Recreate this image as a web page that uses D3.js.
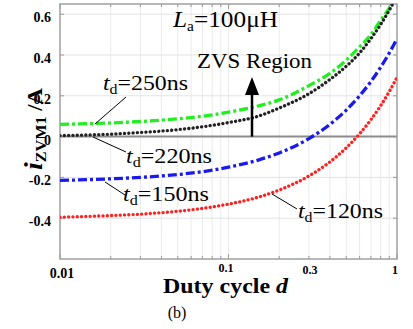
<!DOCTYPE html>
<html><head><meta charset="utf-8">
<script src="https://cdn.jsdelivr.net/npm/d3@7"></script>
<style>body{margin:0;background:#fff}svg{display:block}</style>
</head><body><svg id="c" width="413" height="329" font-family="'Liberation Serif','Times New Roman',serif"></svg>
<script>
const duty = [0.01,0.02,0.03,0.05,0.07,0.1,0.15,0.2,0.3,0.4,0.5,0.6,0.7,0.8,0.9,1.0];
const td250 = [0.06,0.067,0.074,0.087,0.10,0.12,0.15,0.18,0.25,0.31,0.375,0.44,0.50,0.57,0.63,0.70];
const td220 = [0.005,0.012,0.02,0.034,0.048,0.069,0.10,0.14,0.21,0.28,0.345,0.41,0.48,0.55,0.62,0.69];
const td150 = [-0.215,-0.207,-0.2,-0.186,-0.172,-0.15,-0.115,-0.08,-0.01,0.06,0.13,0.20,0.27,0.34,0.41,0.48];
const td120 = [-0.395,-0.387,-0.38,-0.366,-0.352,-0.331,-0.297,-0.262,-0.193,-0.124,-0.055,0.014,0.083,0.152,0.221,0.29];
const yTicks = [-0.4,-0.2,0,0.2,0.4,0.6];
const yTickLabels = ["-0.4","-0.2","0","0.2","0.4","0.6"];
const xTicks = [0.01,0.1,0.3,1];
const xTickLabels = ["0.01","0.1","0.3","1"];

const svg = d3.select("#c");
const L=60,R=397,T=4,B=259;
const x = d3.scaleLog().domain([0.01,1]).range([L,R]);
const y = d3.scaleLinear().domain([-0.6,0.65]).range([B,T]);

// grid
const minor=[];
for(const dec of [0.01,0.1]) for(let k=1;k<=9;k++) minor.push(dec*k);
minor.push(1);
svg.append("g").selectAll("line").data(minor.filter(v=>v>0.01&&v<1)).join("line")
 .attr("x1",d=>x(d)).attr("x2",d=>x(d)).attr("y1",T).attr("y2",B)
 .attr("stroke","#ebebeb").attr("stroke-width",1);
svg.append("g").selectAll("line").data(yTicks.filter(v=>v!==0)).join("line")
 .attr("x1",L).attr("x2",R).attr("y1",d=>y(d)).attr("y2",d=>y(d))
 .attr("stroke","#e3e3e3").attr("stroke-width",1);

// ticks (inside)
const tg=svg.append("g").attr("stroke","#999").attr("stroke-width",1);
minor.forEach(v=>{
  const len=(v===0.01||v===0.1||v===1)?5:3;
  tg.append("line").attr("x1",x(v)).attr("x2",x(v)).attr("y1",B).attr("y2",B-len);
  tg.append("line").attr("x1",x(v)).attr("x2",x(v)).attr("y1",T).attr("y2",T+len);
});
yTicks.forEach(v=>{
  tg.append("line").attr("x1",L).attr("x2",L+4).attr("y1",y(v)).attr("y2",y(v));
  tg.append("line").attr("x1",R).attr("x2",R-4).attr("y1",y(v)).attr("y2",y(v));
});

// zero line
svg.append("line").attr("x1",L).attr("x2",R).attr("y1",y(0)).attr("y2",y(0))
 .attr("stroke","#8c8c8c").attr("stroke-width",2);

// box
svg.append("rect").attr("x",L).attr("y",T).attr("width",R-L).attr("height",B-T)
 .attr("fill","none").attr("stroke","#a0a0a0").attr("stroke-width",1.5);

// curves
svg.append("defs").append("clipPath").attr("id","clip").append("rect")
 .attr("x",L).attr("y",T).attr("width",R-L).attr("height",B-T);
const line = d3.line().x(d=>x(d[0])).y(d=>y(d[1])).curve(d3.curveMonotoneX);
const series = [
 {v:td250,c:"#22ee22",dash:"9,3,3,3",cap:"butt"},
 {v:td220,c:"#222222",dash:"0.1,4.2",cap:"round"},
 {v:td150,c:"#1a1aee",dash:"9,3,3,3",cap:"butt"},
 {v:td120,c:"#ff2020",dash:"0.1,4.2",cap:"round"}
];
const cg=svg.append("g").attr("clip-path","url(#clip)");
series.forEach(s=>{
  cg.append("path").attr("d",line(duty.map((d,i)=>[d,s.v[i]])))
   .attr("fill","none").attr("stroke",s.c).attr("stroke-width",3.3)
   .attr("stroke-dasharray",s.dash).attr("stroke-linecap",s.cap);
});

// tick labels
const yl=svg.append("g").attr("font-weight","bold").attr("font-size",14).attr("text-anchor","end");
yTicks.forEach((v,i)=>yl.append("text").attr("x",51).attr("y",y(v)+8).text(yTickLabels[i]));
const xl=svg.append("g").attr("font-weight","bold").attr("text-anchor","middle");
const xPos={0.01:[62,278,14],0.1:[226,272,12],0.3:[310,274,12],1:[395,274,12]};
xTicks.forEach((v,i)=>xl.append("text").attr("x",xPos[v][0]).attr("y",xPos[v][1])
  .attr("font-size",xPos[v][2]).text(xTickLabels[i]));

// axis titles
const xt=svg.append("text").attr("x",163).attr("y",293)
 .attr("font-weight","bold").attr("font-size",20).attr("textLength",125).attr("lengthAdjust","spacingAndGlyphs");
xt.append("tspan").text("Duty cycle ");
xt.append("tspan").attr("font-style","italic").text("d");
svg.append("text").attr("x",177).attr("y",318).attr("text-anchor","middle").attr("font-size",16).text("(b)");

const yt=svg.append("text").attr("transform","translate(42,170) rotate(-90)")
 .attr("font-weight","bold").attr("font-size",21).attr("textLength",82).attr("lengthAdjust","spacingAndGlyphs");
yt.append("tspan").attr("font-style","italic").attr("font-size",26).text("i");
yt.append("tspan").attr("font-size",15).attr("dy",4).text("ZVM1");
yt.append("tspan").attr("dy",-4).text(" /A");

// annotations
function label(px,py,val,w){
  const t=svg.append("text").attr("x",px).attr("y",py).attr("font-size",21)
    .attr("textLength",w).attr("lengthAdjust","spacingAndGlyphs");
  t.append("tspan").attr("font-style","italic").text("t");
  t.append("tspan").attr("font-size",14).attr("dy",4).text("d");
  t.append("tspan").attr("dy",-4).text("="+val);
}
const la=svg.append("text").attr("x",173).attr("y",27).attr("font-size",23)
  .attr("textLength",105).attr("lengthAdjust","spacingAndGlyphs");
la.append("tspan").attr("font-style","italic").text("L");
la.append("tspan").attr("font-size",14).attr("dy",4).text("a");
la.append("tspan").attr("dy",-4).text("=100μH");
svg.append("text").attr("x",197).attr("y",68).attr("font-size",21)
  .attr("textLength",115).attr("lengthAdjust","spacingAndGlyphs").text("ZVS Region");

label(103,90,"250ns",85);
label(126,163,"220ns",86);
label(123,201,"150ns",86);
label(298,218,"120ns",85);

const ld=svg.append("g").attr("stroke","#000").attr("stroke-width",1);
[[126,97,95,124],[93,137,126,152],[105,182,125,195],[272,194,297,209]].forEach(a=>
 ld.append("line").attr("x1",a[0]).attr("y1",a[1]).attr("x2",a[2]).attr("y2",a[3]));

// arrow
svg.append("line").attr("x1",252).attr("x2",252).attr("y1",y(0)).attr("y2",92)
 .attr("stroke","#000").attr("stroke-width",2.5);
svg.append("path").attr("d","M252,77 L245,95 L259,95 Z").attr("fill","#000");
</script></body></html>
